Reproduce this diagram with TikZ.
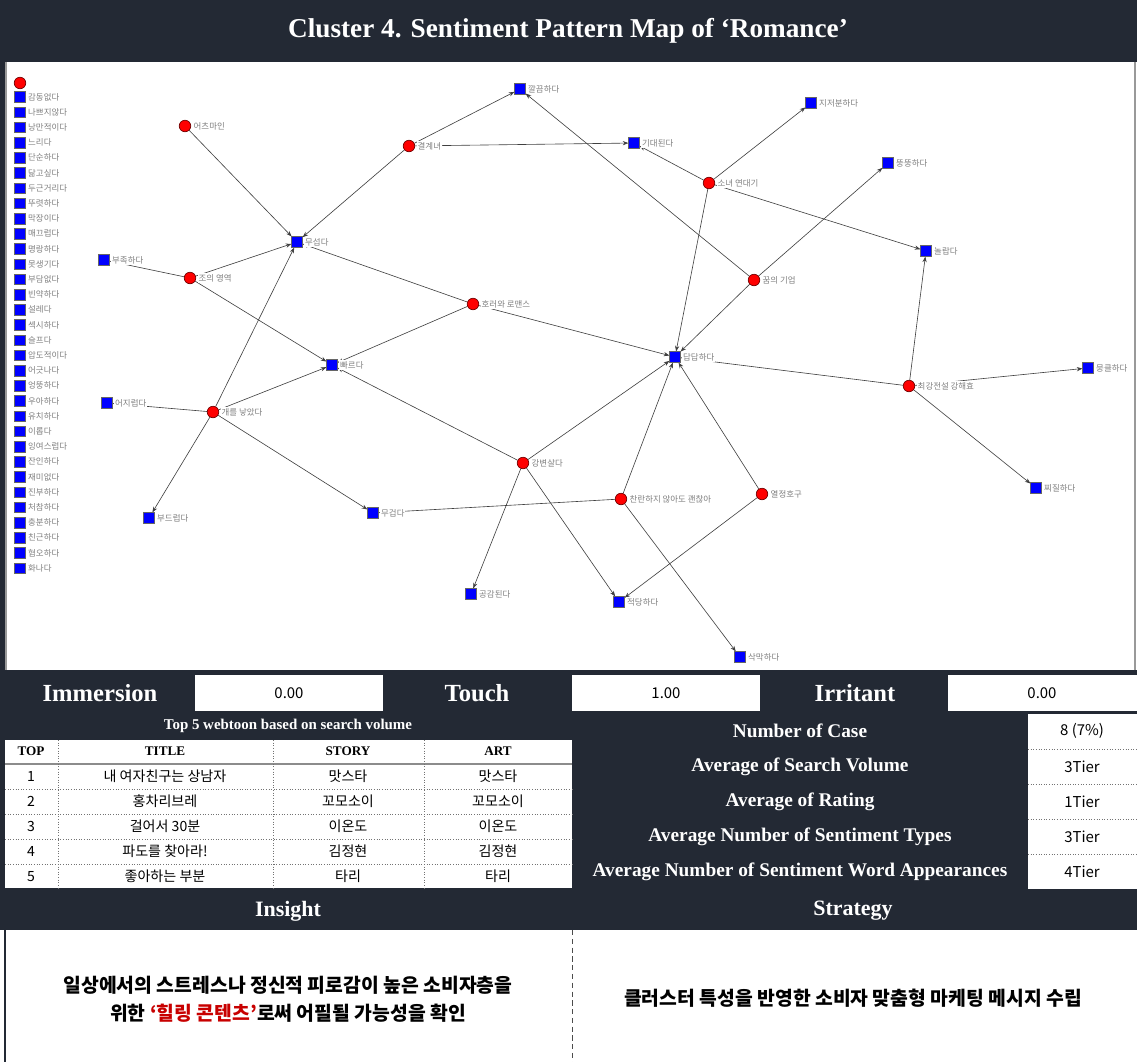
\documentclass[tikz,border=0pt]{standalone}
\usepackage{fontspec}
\setmainfont{Liberation Serif}
\newfontfamily\kr{Noto Sans CJK KR}
\usetikzlibrary{arrows.meta}
\pgfdeclarelayer{bg}
\pgfdeclarelayer{edges}
\pgfsetlayers{bg,edges,main}
\definecolor{navy}{RGB}{35,41,52}
\definecolor{hilite}{RGB}{200,0,0}
\tikzset{
  wt/.style={circle, fill=red, draw=red!45!black, inner sep=0pt, minimum size=2.3mm},
  sw/.style={rectangle, fill=blue, draw=black!60, inner sep=0pt, minimum size=2.1mm},
  lbl/.style={font=\kr\fontsize{4.8}{5}\selectfont, text=black!50, fill=white, inner sep=0.5pt, label distance=0.8pt},
  edge/.style={draw=black!75, line width=0.35pt, -{Stealth[length=3.2pt,width=2.4pt]}},
  head/.style={text=white, font=\bfseries\fontsize{14}{16}\selectfont},
  stat/.style={text=white, font=\bfseries\fontsize{11}{13}\selectfont},
  val/.style={font=\kr\fontsize{8.5}{10}\selectfont},
  cell/.style={font=\kr\fontsize{8}{10}\selectfont},
  colhead/.style={font=\bfseries\fontsize{7.5}{9}\selectfont},
  sep/.style={draw=black!55, densely dotted, line width=0.5pt}
}
\begin{document}
\begin{tikzpicture}[x=0.02cm, y=-0.02cm]
\useasboundingbox (0,0) rectangle (1137,1062);
% frame and bands
\begin{pgfonlayer}{bg}
\fill[navy] (0,0) rectangle (1137,930);
\fill[white] (5,62) rectangle (1137,670);
\draw[black!40, line width=0.6pt] (6,62) -- (6,670) (1135,62) -- (1135,670);
\end{pgfonlayer}
\node[text=white, font=\bfseries\fontsize{15.5}{18}\selectfont] (title) at (568,31) {Cluster 4. Sentiment Pattern Map of ‘Romance’};

% legend
\node[wt] (legw) at (20,83) {};
\foreach \w [count=\i from 0] in {감동없다,나쁘지않다,낭만적이다,느리다,단순하다,닮고싶다,두근거리다,뚜렷하다,막장이다,매끄럽다,명랑하다,못생기다,부담없다,빈약하다,설레다,섹시하다,슬프다,압도적이다,어긋나다,엉뚱하다,우아하다,유치하다,이롭다,잉여스럽다,잔인하다,재미없다,진부하다,처참하다,충분하다,친근하다,혐오하다,화나다}
  \node[sw, label={[lbl]right:\w}] (leg\i) at (20,{97+15.2*\i}) {};

% webtoons
\node[wt, label={[lbl]right:어츠마인}] (eocheu) at (185,126) {};
\node[wt, label={[lbl]right:결계녀}] (gyeolgye) at (409,146) {};
\node[wt, label={[lbl]right:소녀 연대기}] (sonyeo) at (709,183) {};
\node[wt, label={[lbl]right:꿈의 기업}] (kkum) at (754,280) {};
\node[wt, label={[lbl]right:조의 영역}] (jo) at (190,278) {};
\node[wt, label={[lbl]right:호러와 로맨스}] (horror) at (473,304) {};
\node[wt, label={[lbl]right:개를 낳았다}] (gae) at (213,412) {};
\node[wt, label={[lbl]right:강변살다}] (gangbyeon) at (523,463) {};
\node[wt, label={[lbl]right:찬란하지 않아도 괜찮아}] (chanran) at (621,499) {};
\node[wt, label={[lbl]right:열정호구}] (yeoljeong) at (762,494) {};
\node[wt, label={[lbl]right:최강전설 강해효}] (choegang) at (909,386) {};

% sentiments
\node[sw, label={[lbl]right:무섭다}] (museop) at (297,242) {};
\node[sw, label={[lbl]right:깔끔하다}] (kkalkkeum) at (520,89) {};
\node[sw, label={[lbl]right:기대된다}] (gidae) at (634,143) {};
\node[sw, label={[lbl]right:지저분하다}] (jijeobun) at (811,103) {};
\node[sw, label={[lbl]right:뚱뚱하다}] (ttung) at (888,163) {};
\node[sw, label={[lbl]right:놀랍다}] (nollap) at (926,251) {};
\node[sw, label={[lbl]right:부족하다}] (bujok) at (104,260) {};
\node[sw, label={[lbl]right:빠르다}] (ppareu) at (332,365) {};
\node[sw, label={[lbl]right:답답하다}] (dapdap) at (675,357) {};
\node[sw, label={[lbl]right:어지럽다}] (eojireop) at (107,403) {};
\node[sw, label={[lbl]right:부드럽다}] (budeu) at (149,518) {};
\node[sw, label={[lbl]right:무겁다}] (mugeop) at (373,513) {};
\node[sw, label={[lbl]right:뭉클하다}] (mungkeul) at (1088,368) {};
\node[sw, label={[lbl]right:찌질하다}] (jjijil) at (1036,488) {};
\node[sw, label={[lbl]right:공감된다}] (gonggam) at (471,594) {};
\node[sw, label={[lbl]right:적당하다}] (jeokdang) at (619,602) {};
\node[sw, label={[lbl]right:삭막하다}] (sangmak) at (740,657) {};

\begin{pgfonlayer}{edges}
\foreach \a/\b in {eocheu/museop, gyeolgye/museop, gyeolgye/kkalkkeum, gyeolgye/gidae,
  sonyeo/gidae, sonyeo/jijeobun, sonyeo/nollap, sonyeo/dapdap,
  kkum/kkalkkeum, kkum/ttung, kkum/dapdap,
  jo/bujok, jo/museop, jo/ppareu,
  horror/museop, horror/ppareu, horror/dapdap,
  gae/museop, gae/ppareu, gae/eojireop, gae/budeu, gae/mugeop,
  gangbyeon/ppareu, gangbyeon/dapdap, gangbyeon/gonggam, gangbyeon/jeokdang,
  chanran/mugeop, chanran/dapdap, chanran/sangmak,
  yeoljeong/dapdap, yeoljeong/jeokdang,
  choegang/dapdap, choegang/nollap, choegang/mungkeul, choegang/jjijil}
  \draw[edge] (\a) -- (\b);
\end{pgfonlayer}

% score row
\fill[white] (195,675) rectangle (383,711);
\fill[white] (572,675) rectangle (760,711);
\fill[white] (948,675) rectangle (1137,711);
\node[head] (imm) at (100,693) {Immersion};
\node[val] (immv) at (289,693) {0.00};
\node[head] (touch) at (477,693) {Touch};
\node[val] (touchv) at (666,693) {1.00};
\node[head] (irr) at (855,693) {Irritant};
\node[val] (irrv) at (1042,693) {0.00};

% top 5 table
\node[text=white, font=\bfseries\fontsize{8.5}{10}\selectfont] (toptitle) at (288,726) {Top 5 webtoon based on search volume};
\fill[white] (5,740) rectangle (572,888);
\draw[black!45, line width=0.8pt] (5,764) -- (572,764);
\foreach \yy in {789,814,839,864} \draw[sep] (5,\yy) -- (572,\yy);
\foreach \xx in {58,273,424} \draw[sep] (\xx,740) -- (\xx,888);
\node[colhead] (hTop) at (31,751) {TOP};
\node[colhead] (hTitle) at (165,751) {TITLE};
\node[colhead] (hStory) at (348,751) {STORY};
\node[colhead] (hArt) at (498,751) {ART};
\foreach \n/\t/\s [count=\r from 0] in {1/내 여자친구는 상남자/맛스타, 2/홍차리브레/꼬모소이, 3/걸어서 30분/이온도, 4/파도를 찾아라!/김정현, 5/좋아하는 부분/타리} {
  \node[cell] (n\r) at (31,{776.5+25*\r}) {\n};
  \node[cell] (t\r) at (165,{776.5+25*\r}) {\t};
  \node[cell] (s\r) at (348,{776.5+25*\r}) {\s};
  \node[cell] (a\r) at (498,{776.5+25*\r}) {\s};
}

% case stats
\fill[white] (1028,714) rectangle (1137,889);
\foreach \yy in {749,784,819,854} \draw[sep] (1028,\yy) -- (1137,\yy);
\node[stat] (st1) at (800,731) {Number of Case};
\node[stat] (st2) at (800,767) {Average of Search Volume};
\node[stat] (st3) at (800,802) {Average of Rating};
\node[stat] (st4) at (800,837) {Average Number of Sentiment Types};
\node[stat] (st5) at (800,872) {Average Number of Sentiment Word Appearances};
\node[val] (sv1) at (1082,731) {8 (7\%)};
\node[val] (sv2) at (1082,767) {3Tier};
\node[val] (sv3) at (1082,802) {1Tier};
\node[val] (sv4) at (1082,837) {3Tier};
\node[val] (sv5) at (1082,872) {4Tier};

% insight / strategy
\node[text=white, font=\bfseries\fontsize{12.5}{15}\selectfont] (insight) at (288,911) {Insight};
\node[text=white, font=\bfseries\fontsize{12.5}{15}\selectfont] (strategy) at (853,911) {Strategy};
\fill[white] (5,930) rectangle (1137,1062);
\draw[navy, line width=0.8pt] (5,930) -- (5,1062);
\draw[black!70, densely dashed, line width=0.5pt] (572,930) -- (572,1062);
\node[font=\kr\bfseries\fontsize{11}{13}\selectfont] (ins1) at (288,985) {일상에서의 스트레스나 정신적 피로감이 높은 소비자층을};
\node[font=\kr\bfseries\fontsize{11}{13}\selectfont] (ins2) at (288,1013) {위한 \textcolor{hilite}{‘힐링 콘텐츠’}로써 어필될 가능성을 확인};
\node[font=\kr\bfseries\fontsize{11}{13}\selectfont] (strat) at (853,998) {클러스터 특성을 반영한 소비자 맞춤형 마케팅 메시지 수립};
\end{tikzpicture}
\end{document}
